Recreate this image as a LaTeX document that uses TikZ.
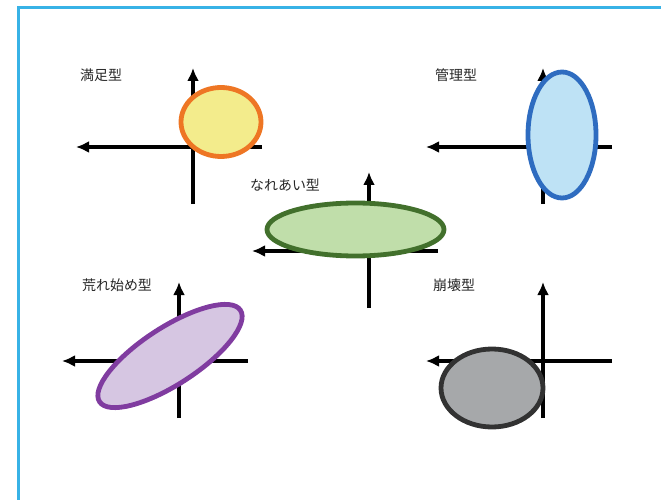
\documentclass[tikz,border=0pt]{standalone}
\usepackage{fontspec}
\newfontfamily\jpfont{Noto Sans CJK JP}
\usetikzlibrary{arrows.meta}

\definecolor{framecol}{RGB}{56,178,230}
\definecolor{satline}{RGB}{238,118,36}
\definecolor{satfill}{RGB}{243,236,140}
\definecolor{mgtline}{RGB}{46,108,192}
\definecolor{mgtfill}{RGB}{190,226,245}
\definecolor{colline}{RGB}{66,112,44}
\definecolor{colfill}{RGB}{192,222,170}
\definecolor{rghline}{RGB}{128,60,160}
\definecolor{rghfill}{RGB}{214,198,226}
\definecolor{brkline}{RGB}{50,50,50}
\definecolor{brkfill}{RGB}{166,168,170}

\begin{document}
\begin{tikzpicture}[x=1bp, y=-1bp,
  axis/.style={line width=3.2bp, -{Latex[length=13bp,width=12bp]}},
  blob/.style={line width=4.8bp},
  lbl/.style={anchor=west, inner sep=0pt, text=black!85, font=\jpfont\fontsize{14}{15}\selectfont}
]
\path[clip] (0,0) rectangle (661,500);
\draw[framecol, line width=3bp] (18.5,8) rectangle (700,540);

% origins of the five panels
\coordinate (sat) at (193,147);
\coordinate (mgt) at (543,147);
\coordinate (col) at (369,251);
\coordinate (rgh) at (179,361);
\coordinate (brk) at (543,361);

\foreach \o in {sat,mgt,col,rgh,brk} {
  \draw[axis] ([yshift=-57bp]\o) -- ([yshift=79bp]\o);
  \draw[axis] ([xshift=69bp]\o) -- ([xshift=-117bp]\o);
}

% panels
\draw[blob, satline, fill=satfill] (221,122) ellipse [x radius=40, y radius=34.5];
\draw[blob, mgtline, fill=mgtfill] (562,135) ellipse [x radius=34, y radius=63];
\draw[blob, colline, fill=colfill] (355.5,229.5) ellipse [x radius=88.5, y radius=26.5];
\draw[blob, rghline, fill=rghfill, rotate around={33:(170,356)}] (170,356) ellipse [x radius=84, y radius=28.5];
\draw[blob, brkline, fill=brkfill] (492,388) ellipse [x radius=51, y radius=39];

\node[lbl] (satlbl) at (80,75) {満足型};
\node[lbl] (mgtlbl) at (435,75) {管理型};
\node[lbl] (collbl) at (250,185) {なれあい型};
\node[lbl] (rghlbl) at (82,285) {荒れ始め型};
\node[lbl] (brklbl) at (433,285) {崩壊型};
\end{tikzpicture}
\end{document}
